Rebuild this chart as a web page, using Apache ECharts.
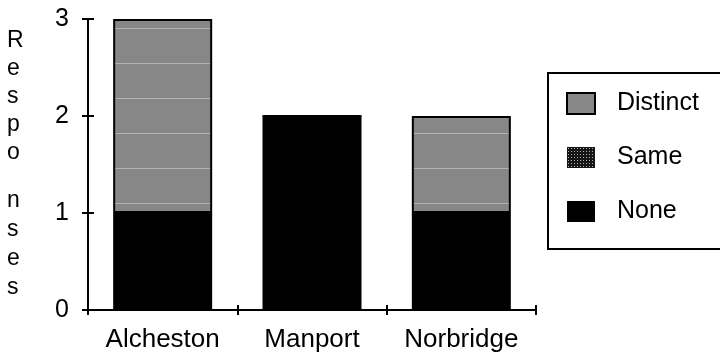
<!DOCTYPE html>
<html>
<head>
<meta charset="utf-8">
<script src="https://cdn.jsdelivr.net/npm/echarts@6/dist/echarts.min.js"></script>
<style>
  html, body { margin: 0; padding: 0; background: #ffffff; }
  #chart { width: 720px; height: 359px; }
</style>
</head>
<body>
<div id="chart"></div>
<script>
// Survey responses per town, stacked by answer type
const categories = ['Alcheston', 'Manport', 'Norbridge'];
const noneValues = [1, 2, 1];
const sameValues = [0, 0, 0];
const distinctValues = [2, 0, 1];
const legendOrder = ['Distinct', 'Same', 'None'];
const yMin = 0, yMax = 3, yStep = 1;

const FONT = '"Liberation Sans", Helvetica, Arial, sans-serif';

// Mid-grey fill with faint light rows
function makeGreyPattern() {
  const c = document.createElement('canvas');
  c.width = 4; c.height = 35;
  const g = c.getContext('2d');
  g.fillStyle = '#878787';
  g.fillRect(0, 0, c.width, c.height);
  g.fillStyle = '#b3b3b3';
  g.fillRect(0, 28, c.width, 1);
  return { image: c, repeat: 'repeat' };
}

// Dark fill with a regular grid of light dots
function makeGridPattern() {
  const c = document.createElement('canvas');
  c.width = 3; c.height = 3;
  const g = c.getContext('2d');
  g.fillStyle = '#151515';
  g.fillRect(0, 0, 3, 3);
  g.fillStyle = '#b0b0b0';
  g.fillRect(1, 1, 1, 1);
  return { image: c, repeat: 'repeat' };
}

const chart = echarts.init(document.getElementById('chart'), null, { renderer: 'canvas' });

const yAxisBase = { type: 'value', min: yMin, max: yMax, interval: yStep, splitLine: { show: false } };

chart.setOption({
  backgroundColor: '#ffffff',
  animation: false,
  textStyle: { fontFamily: FONT },
  grid: { left: 88, right: 184, top: 19, bottom: 49, containLabel: false, outerBoundsMode: 'none' },
  xAxis: [
    {
      type: 'category', data: categories, position: 'bottom',
      axisLine: { lineStyle: { color: '#000', width: 2 } },
      axisTick: { show: true, length: 5, inside: false, lineStyle: { color: '#000', width: 2 } },
      axisLabel: { color: '#000', fontSize: 26, fontFamily: FONT, margin: 17 }
    },
    {
      type: 'category', data: categories, position: 'bottom',
      axisLine: { show: false },
      axisTick: { show: true, length: 5, inside: true, lineStyle: { color: '#000', width: 2 } },
      axisLabel: { show: false }
    }
  ],
  yAxis: [
    Object.assign({}, yAxisBase, {
      position: 'left',
      axisLine: { show: true, lineStyle: { color: '#000', width: 2 } },
      axisTick: { show: true, length: 6, inside: false, lineStyle: { color: '#000', width: 2 } },
      axisLabel: { color: '#000', fontSize: 25, fontFamily: FONT, margin: 19 }
    }),
    Object.assign({}, yAxisBase, {
      position: 'left',
      axisLine: { show: false },
      axisTick: { show: true, length: 6, inside: true, lineStyle: { color: '#000', width: 2 } },
      axisLabel: { show: false }
    })
  ],
  legend: {
    data: legendOrder,
    orient: 'vertical',
    left: 548, top: 73,
    padding: [18, 60, 25, 18],
    icon: 'rect',
    itemWidth: 28, itemHeight: 21, itemGap: 29,
    borderColor: '#000', borderWidth: 2,
    backgroundColor: '#fff',
    textStyle: { color: '#000', fontSize: 25, fontFamily: FONT, lineHeight: 21, padding: [0, 0, 0, 17] },
    selectedMode: false
  },
  graphic: [
    {
      type: 'text', left: 7, top: 27,
      style: { text: 'R\ne\ns\np\no', font: '23px ' + FONT, fill: '#000', lineHeight: 28, align: 'center', width: 22 }
    },
    {
      type: 'text', left: 7, top: 186,
      style: { text: 'n\ns\ne\ns', font: '23px ' + FONT, fill: '#000', lineHeight: 29, align: 'center', width: 22 }
    }
  ],
  series: [
    {
      name: 'None', type: 'bar', stack: 'resp', data: noneValues, barWidth: 99,
      itemStyle: { color: '#000', borderColor: '#000', borderWidth: 0 }
    },
    {
      name: 'Same', type: 'bar', stack: 'resp', data: sameValues, barWidth: 99,
      itemStyle: { color: makeGridPattern(), borderColor: '#000', borderWidth: 0 }
    },
    {
      name: 'Distinct', type: 'bar', stack: 'resp', data: distinctValues, barWidth: 99,
      itemStyle: { color: makeGreyPattern(), borderColor: '#000', borderWidth: 2 }
    }
  ]
});
</script>
</body>
</html>
